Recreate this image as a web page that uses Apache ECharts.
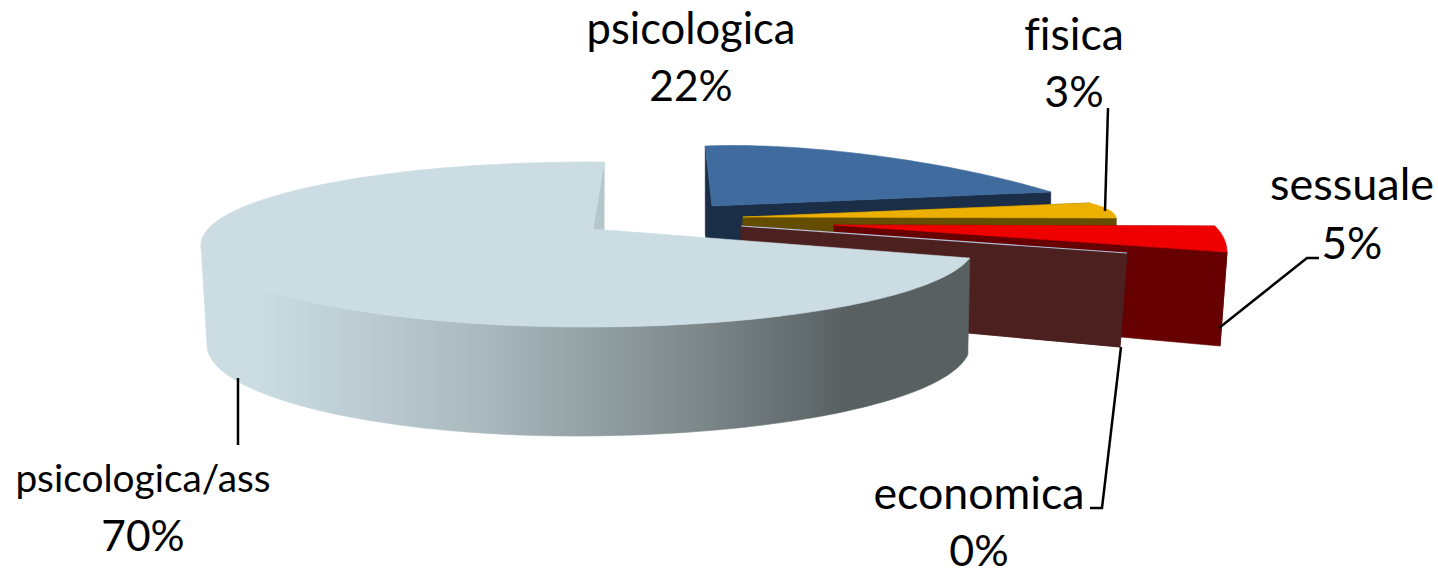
<!DOCTYPE html>
<html><head><meta charset="utf-8">
<style>html,body{margin:0;padding:0;background:#fff}#c{width:1438px;height:570px}
#c text{font-variant-ligatures:none !important}</style>
<script src="https://cdn.jsdelivr.net/npm/echarts@6/dist/echarts.min.js"></script>
</head><body><div id="c"></div>
<script>
// --- data ---
const categories = ['psicologica', 'fisica', 'sessuale', 'economica', 'psicologica/ass'];
const shares = [22, 3, 5, 0, 70];

// --- projected pie layout: one entry per slice (back to front) ---
// rim ellipses: [cx, cy, rx (right half), ry, rx (left half), tilt]
const layout = [
  {top:[878,212.5,271,56.5,271,0.133], bot:[878,300,271,56.5,271,0.133], a0:-39.6, k:1, apexT:[712,206], apexB:[712,300], top2:'#3f6b9e', dark:'#1b2e47', face:'#1b2e47'},
  {top:[922,218,194,30], bot:[922,300,194,30], a0:60, k:2.78,  apexT:[743,217], apexB:[743,300], top2:'#ecb100', dark:'#654d00', face:'#654d00'},
  {top:[1137,252,90,52], bot:[1130,346,90,52], a0:60, k:1.67,  apexT:[834,225], apexB:[834,311], top2:'#ee0000', dark:'#670000', face:'#670000'},
  {top:[1040,253,87,1],  bot:[1033,347,87,1],  a0:90, k:1,     apexT:[741,226], apexB:[741,312], top2:'#b6bfd6', dark:'#4d2020', face:'#4d2020'},
  {top:[588,244.5,387,82.5], bot:[575,345,395,91,368], a0:99.5, k:1.0433, bs:-3.5, endB:[604,262], apexT:[593,229], apexB:[593,320], top2:'#cbdce3', dark:'#586062', face:'#b5c7cd', shaded:true}
];
// [x, name y, value y, name font px, value font px]
const labelPos = [[691,27,84,43.5,42.5],[1074,32,90,44.5,43],[1352,183,242,45,44],[979,492,549,44.7,43],[143,477,534,38.8,42.5]];
const leaders = [
  [[1108,108],[1105,211]],
  [[1219,328],[1307,258],[1319,258]],
  [[1121,347],[1102,508],[1090,508]],
  [[238,378],[238,445]]
];

function rim(e, deg){
  const a = deg*Math.PI/180, s = Math.sin(a);
  const dx = (s>=0 ? e[2] : (e[4]||e[2]))*s;
  return [e[0]+dx, e[1]-e[3]*Math.cos(a)+(e[5]||0)*dx];
}
function arc(e, from, to){
  const pts=[], n=Math.max(2,Math.ceil(Math.abs(to-from)/1.5));
  for(let i=0;i<=n;i++) pts.push(rim(e, from+(to-from)*i/n));
  return pts;
}
const poly=(points,fill)=>({type:'polygon',shape:{points},style:{fill,stroke:fill,lineWidth:0.6}});
const sideFill = new echarts.graphic.LinearGradient(205,0,968,0,[
  {offset:0,color:'#cbdce3'},{offset:0.07,color:'#cbdce3'},{offset:0.37,color:'#a9b8bd'},
  {offset:0.65,color:'#7c8789'},{offset:0.84,color:'#586062'},{offset:1,color:'#586062'}],true);

function renderSlice(params, api){
  const i = params.dataIndex, L = layout[i], sweep = api.value(1)*3.6*L.k, bs = L.bs||0;
  const a1 = L.a0, a2 = L.a0+sweep;
  const c=[];
  // radial walls
  c.push(poly([rim(L.top,a2),L.endB||rim(L.bot,a2),L.apexB,L.apexT], L.face));
  if(!L.shaded) c.push(poly([L.apexT,rim(L.top,a1),rim(L.bot,a1+bs),L.apexB], L.dark));
  // outer wall: only the part of the rim that faces the viewer
  const f1=Math.max(a1,90), f2=Math.min(a2,270);
  if(f2>f1){
    c.push(poly(arc(L.top,f1,f2).concat(arc(L.bot,f2,f1+bs)), L.shaded?sideFill:L.dark));
  }
  // top surface
  if(sweep>0){
    c.push(poly([L.apexT].concat(arc(L.top,a1,a2)), L.top2));
  } else {
    c.push({type:'polyline',shape:{points:[L.apexT,rim(L.top,a1)]},style:{stroke:L.top2,lineWidth:1.2,fill:null}});
  }
  return {type:'group',children:c};
}
function renderLabels(params, api){
  const i=params.dataIndex, p=labelPos[i];
  const st=(text,y,size)=>({type:'text',style:{text,x:p[0],y,align:'center',verticalAlign:'middle',
    font:size+'px Lato',fill:'#000'}});
  return {type:'group',children:[st(categories[i],p[1],p[3]),st(api.value(1)+'%',p[2],p[4])]};
}
function renderLeaders(params){
  return {type:'polyline',shape:{points:leaders[params.dataIndex]},style:{stroke:'#000',lineWidth:2.5,fill:null}};
}
const chart = echarts.init(document.getElementById('c'),null,{renderer:'svg'});
const rows = categories.map((n,i)=>[n,shares[i]]);
chart.setOption({
  animation:false,
  backgroundColor:'#fff',
  series:[
    {type:'custom',coordinateSystem:'none',silent:true,z:1,data:rows,renderItem:renderSlice,encode:{value:1}},
    {type:'custom',coordinateSystem:'none',silent:true,z:2,data:leaders.map((_,i)=>[i]),renderItem:renderLeaders},
    {type:'custom',coordinateSystem:'none',silent:true,z:3,data:rows,renderItem:renderLabels,encode:{value:1}}
  ]
});
</script></body></html>
